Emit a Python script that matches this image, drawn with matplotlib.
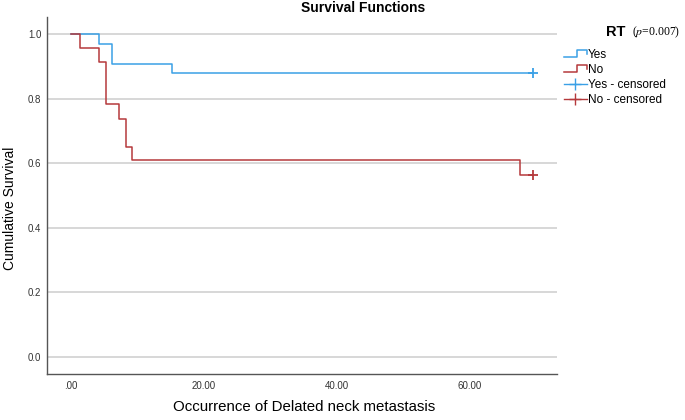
import matplotlib.pyplot as plt
from matplotlib.legend_handler import HandlerBase
from matplotlib.lines import Line2D

plt.rcParams["font.family"] = ["Liberation Sans", "DejaVu Sans"]

# Kaplan-Meier step data
yes_times = [0.0, 4.25, 6.2, 15.2, 69.5]
yes_surv = [1.0, 0.970, 0.909, 0.879, 0.879]
no_times = [0.0, 1.35, 4.25, 5.3, 7.2, 8.3, 9.2, 67.5, 69.5]
no_surv = [1.0, 0.957, 0.913, 0.783, 0.739, 0.652, 0.609, 0.565, 0.565]
yes_censored = ([69.5], [0.879])
no_censored = ([69.5], [0.565])

x_ticks = [0, 20, 40, 60]
x_tick_labels = [".00", "20.00", "40.00", "60.00"]
y_ticks = [0.0, 0.2, 0.4, 0.6, 0.8, 1.0]

BLUE = "#3aa0e6"
RED = "#b5393c"


class HandlerStep(HandlerBase):
    """Small step-shaped line for the legend, like SPSS draws it."""

    def create_artists(self, legend, orig_handle, xdescent, ydescent,
                       width, height, fontsize, trans):
        x0, x1 = -xdescent, -xdescent + width
        xm = x0 + width * 0.55
        yl, yh = -ydescent + height * 0.15, -ydescent + height * 0.9
        line = Line2D([x0, xm, xm, x1, x1], [yl, yl, yh, yh, yh - height * 0.4],
                      color=orig_handle.get_color(), linewidth=1.1, transform=trans)
        return [line]


fig = plt.figure(figsize=(6.85, 4.2), dpi=100)
ax = fig.add_axes([0.0686, 0.1095, 0.7444, 0.85])

ax.step(yes_times, yes_surv, where="post", color=BLUE, linewidth=1.1)
ax.step(no_times, no_surv, where="post", color=RED, linewidth=1.1)
ax.plot(*yes_censored, linestyle="none", marker="+", markersize=7,
        markeredgewidth=1.3, color=BLUE)
ax.plot(*no_censored, linestyle="none", marker="+", markersize=7,
        markeredgewidth=1.3, color=RED)

ax.set_xlim(-3.6, 73.1)
ax.set_ylim(-0.054, 1.054)
ax.set_xticks(x_ticks)
ax.set_xticklabels(x_tick_labels)
ax.set_yticks(y_ticks)
ax.set_yticklabels([f"{v:.1f}" for v in y_ticks])
ax.tick_params(axis="both", length=0, labelsize=7, colors="#333333", pad=5)
ax.tick_params(axis="y", pad=4)
ax.grid(axis="y", color="#d4d4d4", linewidth=1.3)
ax.set_axisbelow(True)
for side in ("top", "right"):
    ax.spines[side].set_visible(False)
for side in ("left", "bottom"):
    ax.spines[side].set_color("#555555")
    ax.spines[side].set_linewidth(1.0)

fig.text(0.444, 0.031, "Occurrence of Delated neck metastasis", ha="center",
         va="center", fontsize=10.8)
fig.text(0.014, 0.505, "Cumulative Survival", ha="center", va="center",
         rotation=90, fontsize=10)
fig.text(0.53, 0.998, "Survival Functions", ha="center", va="top",
         fontsize=10, fontweight="bold")

# legend title
fig.text(0.884, 0.924, "RT", ha="left", va="center", fontsize=10.5, fontweight="bold")
fig.text(0.922, 0.924, r"($\it{p}$=0.007)", ha="left", va="center", fontsize=8.5,
         family="Liberation Serif", math_fontfamily="stix")

h_yes = Line2D([], [], color=BLUE)
h_no = Line2D([], [], color=RED)
h_yes_c = Line2D([], [], color=BLUE, marker="+", markersize=9, linewidth=1.0)
h_no_c = Line2D([], [], color=RED, marker="+", markersize=9, linewidth=1.0)
fig.legend(
    [h_yes, h_no, h_yes_c, h_no_c],
    ["Yes", "No", "Yes - censored", "No - censored"],
    handler_map={h_yes: HandlerStep(), h_no: HandlerStep()},
    loc="upper left",
    bbox_to_anchor=(0.816, 0.895),
    frameon=False,
    fontsize=8.5,
    handlelength=2.0,
    handletextpad=0.05,
    labelspacing=0.25,
    borderaxespad=0,
)

fig.savefig("out.png", dpi=100)
